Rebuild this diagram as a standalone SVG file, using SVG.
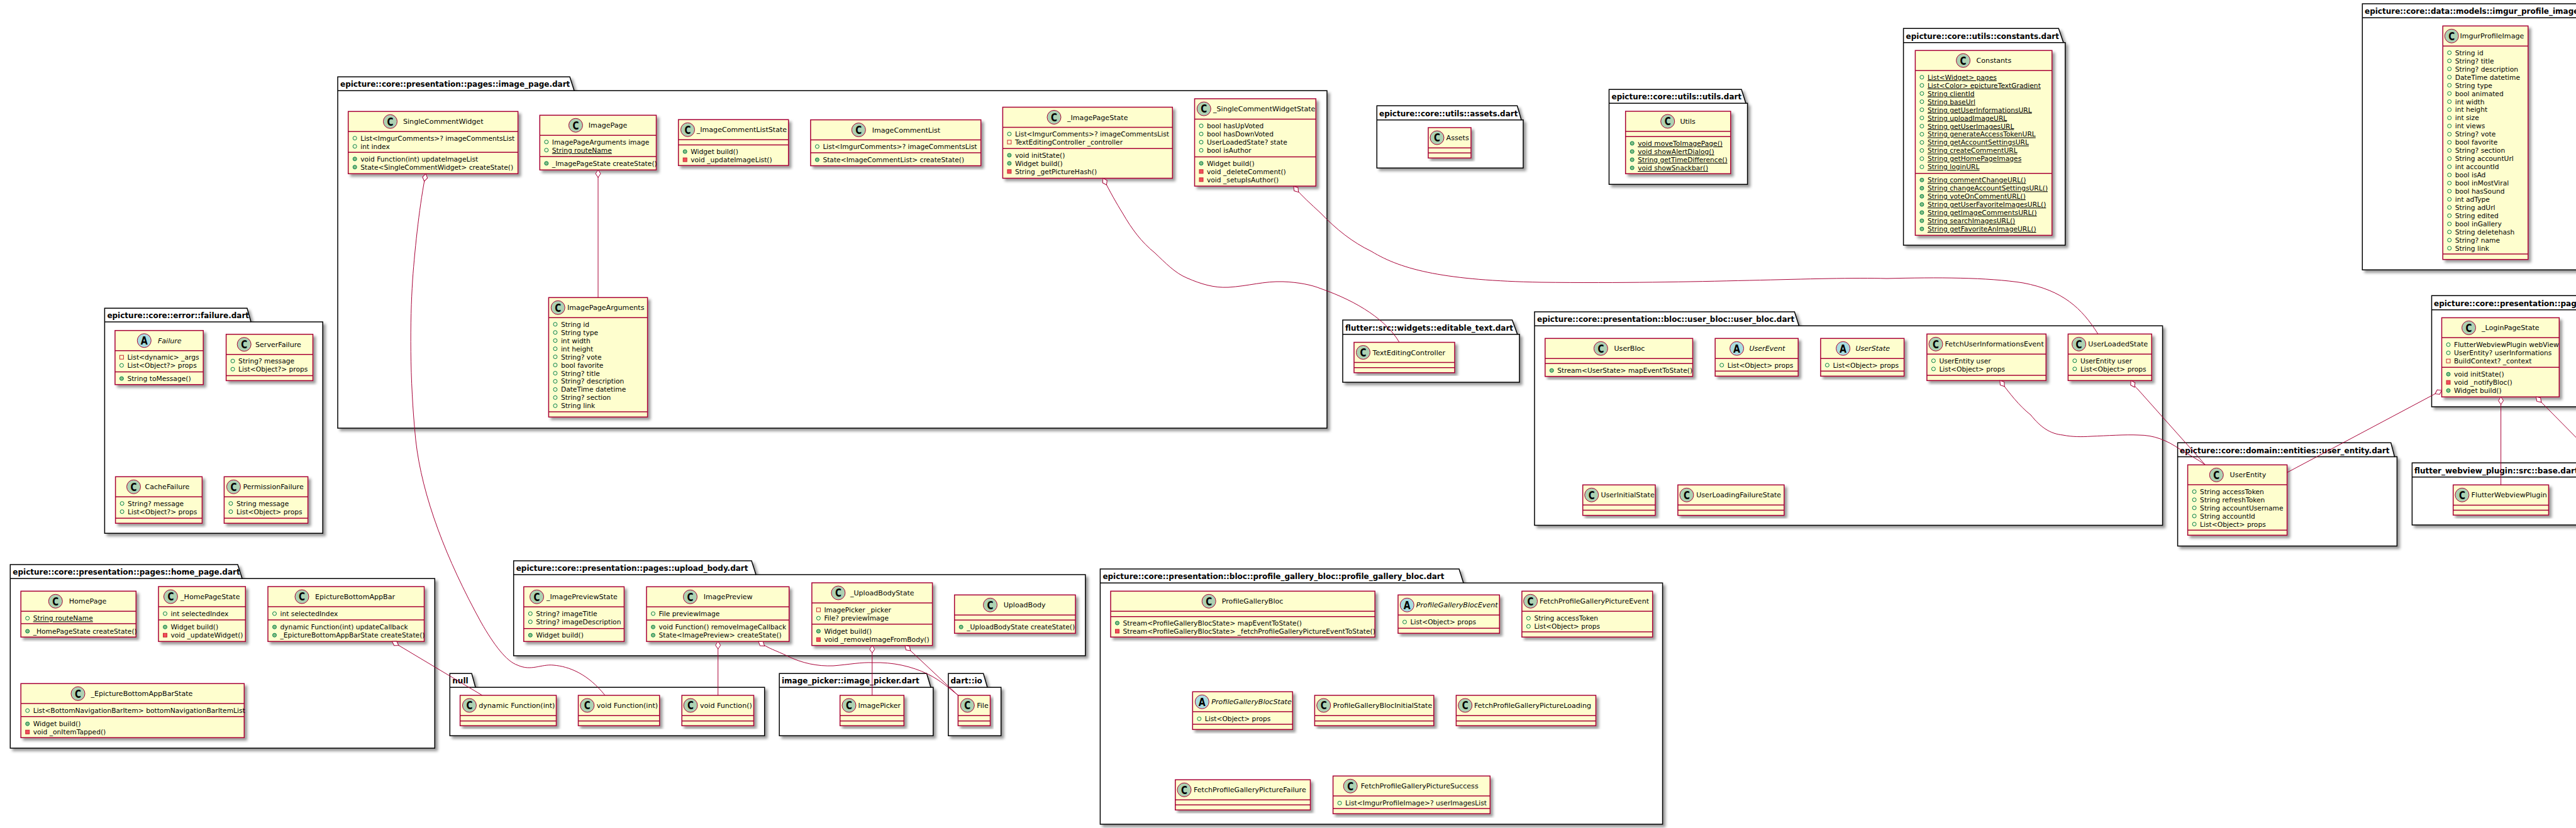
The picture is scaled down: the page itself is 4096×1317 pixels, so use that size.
<svg xmlns="http://www.w3.org/2000/svg" width="4096" height="1317" viewBox="0 0 4096 1317">
<style>
text{font-family:"DejaVu Sans","Liberation Sans",sans-serif;fill:#000}
.pk{fill:#fff;stroke:#000;stroke-width:1.5;filter:url(#sh)}
.pl{stroke:#000;stroke-width:1.5;fill:none}
.pt{font-size:12px;font-weight:bold}
.b{fill:#FEFECE;stroke:#A80036;stroke-width:1.5;filter:url(#sh)}
.s{stroke:#A80036;stroke-width:1.5}
.t{font-size:11.1px}
.i{font-size:11.1px;font-style:italic}
.a{font-size:10.7px}
.u{text-decoration:underline}
.cn{fill:none;stroke:#A80036;stroke-width:1;marker-start:url(#dia)}
.g{font-size:17px;font-weight:bold;text-anchor:middle}
</style>
<defs>
<filter id="sh" x="-5%" y="-5%" width="115%" height="115%"><feDropShadow dx="4" dy="4" stdDeviation="2" flood-color="#000" flood-opacity="0.4"/></filter>
<marker id="dia" markerUnits="userSpaceOnUse" markerWidth="14" markerHeight="10" refX="1" refY="5" orient="auto" overflow="visible"><path d="M1,5 L7,1 L13,5 L7,9 Z" fill="#fff" stroke="#A80036" stroke-width="1"/></marker>
<g id="C"><circle r="11" fill="#ADD1B2" stroke="#A80036"/><text class="g" y="6.3" textLength="10" lengthAdjust="spacingAndGlyphs">C</text></g>
<g id="A"><circle r="11" fill="#A9DCDF" stroke="#A80036"/><text class="g" y="6.3" textLength="11" lengthAdjust="spacingAndGlyphs">A</text></g>
<circle id="o" r="3" fill="none" stroke="#038048"/>
<circle id="m" r="3" fill="#84BE84" stroke="#038048"/>
<rect id="q" x="-3" y="-3" width="6" height="6" fill="none" stroke="#C82930"/>
<rect id="r" x="-3" y="-3" width="6" height="6" fill="#F24D5C" stroke="#C82930"/>
</defs>

<g id="packages">
<g id="pkg-failure"><path class="pk" d="M166.4,490.3 H392.9 L399,512 H513.2 V848.3 H166.4 Z"/><path class="pl" d="M166.4,512 H399"/><text class="pt" x="170.4" y="506">epicture::core::error::failure.dart</text></g>
<g id="pkg-image-page"><path class="pk" d="M537,122.3 H906 L913,144.3 H2110 V681 H537 Z"/><path class="pl" d="M537,144.3 H913"/><text class="pt" x="541" y="138">epicture::core::presentation::pages::image_page.dart</text></g>
<g id="pkg-assets"><path class="pk" d="M2189.3,168.3 H2412.5 L2419,190.7 H2422 V267.3 H2189.3 Z"/><path class="pl" d="M2189.3,190.7 H2419"/><text class="pt" x="2193" y="184.5">epicture::core::utils::assets.dart</text></g>
<g id="pkg-utils"><path class="pk" d="M2558.5,142.3 H2769 L2776,164.3 H2778.6 V293.3 H2558.5 Z"/><path class="pl" d="M2558.5,164.3 H2776"/><text class="pt" x="2562.5" y="158">epicture::core::utils::utils.dart</text></g>
<g id="pkg-constants"><path class="pk" d="M3026.6,45.3 H3273.3 L3281,67.7 H3283.8 V390 H3026.6 Z"/><path class="pl" d="M3026.6,67.7 H3281"/><text class="pt" x="3030.6" y="61.5">epicture::core::utils::constants.dart</text></g>
<g id="pkg-imgur"><path class="pk" d="M3756.3,6 H4140 L4147,28.3 H4160 V429.3 H3756.3 Z"/><path class="pl" d="M3756.3,28.3 H4147"/><text class="pt" x="3760" y="22">epicture::core::data::models::imgur_profile_image.dart</text></g>
<g id="pkg-editable"><path class="pk" d="M2135,509 H2404.5 L2412.8,531.7 H2416 V608 H2135 Z"/><path class="pl" d="M2135,531.7 H2412.8"/><text class="pt" x="2139" y="525.5">flutter::src::widgets::editable_text.dart</text></g>
<g id="pkg-user-bloc"><path class="pk" d="M2440,496 H2853.4 L2860.5,518.3 H3438.6 V835.5 H2440 Z"/><path class="pl" d="M2440,518.3 H2860.5"/><text class="pt" x="2444" y="512">epicture::core::presentation::bloc::user_bloc::user_bloc.dart</text></g>
<g id="pkg-user-entity"><path class="pk" d="M3462.6,704.3 H3801.7 L3807.5,726.4 H3811.4 V868.4 H3462.6 Z"/><path class="pl" d="M3462.6,726.4 H3807.5"/><text class="pt" x="3466" y="720.5">epicture::core::domain::entities::user_entity.dart</text></g>
<g id="pkg-login"><path class="pk" d="M3866.5,470.3 H4230 L4237,492.8 H4250 V647.1 H3866.5 Z"/><path class="pl" d="M3866.5,492.8 H4237"/><text class="pt" x="3870" y="486.5">epicture::core::presentation::pages::login_page.dart</text></g>
<g id="pkg-webview"><path class="pk" d="M3835.4,736.2 H4110 L4117,758.7 H4130 V835 H3835.4 Z"/><path class="pl" d="M3835.4,758.7 H4117"/><text class="pt" x="3839" y="752.5">flutter_webview_plugin::src::base.dart</text></g>
<g id="pkg-home"><path class="pk" d="M16.3,898 H378 L385,920.3 H691.3 V1190 H16.3 Z"/><path class="pl" d="M16.3,920.3 H385"/><text class="pt" x="20.3" y="914">epicture::core::presentation::pages::home_page.dart</text></g>
<g id="pkg-upload"><path class="pk" d="M816.7,892 H1195 L1202,914 H1725.8 V1043 H816.7 Z"/><path class="pl" d="M816.7,914 H1202"/><text class="pt" x="820.7" y="908">epicture::core::presentation::pages::upload_body.dart</text></g>
<g id="pkg-gallery"><path class="pk" d="M1749.4,905 H2320 L2327,927.3 H2643.6 V1311 H1749.4 Z"/><path class="pl" d="M1749.4,927.3 H2327"/><text class="pt" x="1753.4" y="921">epicture::core::presentation::bloc::profile_gallery_bloc::profile_gallery_bloc.dart</text></g>
<g id="pkg-null"><path class="pk" d="M715.3,1071.3 H750 L756,1093.3 H1215.7 V1170.3 H715.3 Z"/><path class="pl" d="M715.3,1093.3 H756"/><text class="pt" x="719.3" y="1087">null</text></g>
<g id="pkg-image-picker"><path class="pk" d="M1239.2,1071.3 H1473.5 L1480,1093.3 H1483.8 V1170.3 H1239.2 Z"/><path class="pl" d="M1239.2,1093.3 H1480"/><text class="pt" x="1243" y="1087">image_picker::image_picker.dart</text></g>
<g id="pkg-dart-io"><path class="pk" d="M1507.9,1071.3 H1563.6 L1570,1093.3 H1591.7 V1170.3 H1507.9 Z"/><path class="pl" d="M1507.9,1093.3 H1570"/><text class="pt" x="1511.5" y="1087">dart::io</text></g>
</g>

<g id="Failure" transform="translate(182.9,525.7)"><rect class="b" width="140.3" height="86"/><path class="s" d="M0,32H140.3M0,65.9H140.3"/><use href="#A" x="46.4" y="16"/><text class="i" x="68" y="20">Failure</text><use href="#q" x="10.5" y="42.5"/><text class="a" x="19.5" y="46.5">List&lt;dynamic&gt; _args</text><use href="#o" x="10.5" y="55.5"/><text class="a" x="19.5" y="59.5">List&lt;Object?&gt; props</text><use href="#m" x="10.5" y="76.4"/><text class="a" x="19.5" y="80.4">String toMessage()</text></g>
<g id="ServerFailure" transform="translate(359.6,531.7)"><rect class="b" width="137.9" height="73.7"/><path class="s" d="M0,32H137.9M0,65.9H137.9"/><use href="#C" x="28.6" y="16"/><text class="t" x="46.4" y="20">ServerFailure</text><use href="#o" x="10.5" y="42.5"/><text class="a" x="19.5" y="46.5">String? message</text><use href="#o" x="10.5" y="55.5"/><text class="a" x="19.5" y="59.5">List&lt;Object?&gt; props</text></g>
<g id="CacheFailure" transform="translate(183.6,758.3)"><rect class="b" width="137.8" height="74"/><path class="s" d="M0,32H137.8M0,65.9H137.8"/><use href="#C" x="28.9" y="16"/><text class="t" x="46.8" y="20">CacheFailure</text><use href="#o" x="10.5" y="42.5"/><text class="a" x="19.5" y="46.5">String? message</text><use href="#o" x="10.5" y="55.5"/><text class="a" x="19.5" y="59.5">List&lt;Object?&gt; props</text></g>
<g id="PermissionFailure" transform="translate(356.4,758.3)"><rect class="b" width="133.2" height="74"/><path class="s" d="M0,32H133.2M0,65.9H133.2"/><use href="#C" x="15" y="16"/><text class="t" x="30" y="20">PermissionFailure</text><use href="#o" x="10.5" y="42.5"/><text class="a" x="19.5" y="46.5">String message</text><use href="#o" x="10.5" y="55.5"/><text class="a" x="19.5" y="59.5">List&lt;Object&gt; props</text></g>

<g id="SingleCommentWidget" transform="translate(553.7,177.3)"><rect class="b" width="269.9" height="99"/><path class="s" d="M0,32H269.9M0,65H269.9"/><use href="#C" x="66.8" y="16"/><text class="t" x="87.3" y="20">SingleCommentWidget</text><use href="#o" x="10.5" y="42.5"/><text class="a" x="19.5" y="46.5">List&lt;ImgurComments&gt;? imageCommentsList</text><use href="#o" x="10.5" y="55.5"/><text class="a" x="19.5" y="59.5">int index</text><use href="#m" x="10.5" y="75.5"/><text class="a" x="19.5" y="79.5">void Function(int) updateImageList</text><use href="#m" x="10.5" y="88.5"/><text class="a" x="19.5" y="92.5">State&lt;SingleCommentWidget&gt; createState()</text></g>
<g id="ImagePage" transform="translate(858.3,183.3)"><rect class="b" width="185.2" height="87"/><path class="s" d="M0,32H185.2M0,65.7H185.2"/><use href="#C" x="57.1" y="16"/><text class="t" x="77.5" y="20">ImagePage</text><use href="#o" x="10.5" y="42.5"/><text class="a" x="19.5" y="46.5">ImagePageArguments image</text><use href="#o" x="10.5" y="55.5"/><text class="a u" x="19.5" y="59.5">String routeName</text><use href="#m" x="10.5" y="76.5"/><text class="a" x="19.5" y="80.5">_ImagePageState createState()</text></g>
<g id="_ImageCommentListState" transform="translate(1078.7,190.3)"><rect class="b" width="175" height="73"/><path class="s" d="M0,32H175M0,40.3H175"/><use href="#C" x="14.8" y="16"/><text class="t" x="29" y="20">_ImageCommentListState</text><use href="#m" x="10.5" y="50.8"/><text class="a" x="19.5" y="54.8">Widget build()</text><use href="#r" x="10.5" y="63.8"/><text class="a" x="19.5" y="67.8">void _updateImageList()</text></g>
<g id="ImageCommentList" transform="translate(1288.9,190.6)"><rect class="b" width="270.8" height="73"/><path class="s" d="M0,32H270.8M0,52.3H270.8"/><use href="#C" x="76.4" y="16"/><text class="t" x="97.8" y="20">ImageCommentList</text><use href="#o" x="10.5" y="42.5"/><text class="a" x="19.5" y="46.5">List&lt;ImgurComments&gt;? imageCommentsList</text><use href="#m" x="10.5" y="63.5"/><text class="a" x="19.5" y="67.5">State&lt;ImageCommentList&gt; createState()</text></g>
<g id="_ImagePageState" transform="translate(1594.4,170.5)"><rect class="b" width="269.9" height="113"/><path class="s" d="M0,32H269.9M0,65.7H269.9"/><use href="#C" x="81.6" y="16"/><text class="t" x="102.6" y="20">_ImagePageState</text><use href="#o" x="10.5" y="42.5"/><text class="a" x="19.5" y="46.5">List&lt;ImgurComments&gt;? imageCommentsList</text><use href="#q" x="10.5" y="55.5"/><text class="a" x="19.5" y="59.5">TextEditingController _controller</text><use href="#m" x="10.5" y="76.4"/><text class="a" x="19.5" y="80.4">void initState()</text><use href="#m" x="10.5" y="89.3"/><text class="a" x="19.5" y="93.3">Widget build()</text><use href="#r" x="10.5" y="102.3"/><text class="a" x="19.5" y="106.3">String _getPictureHash()</text></g>
<g id="_SingleCommentWidgetState" transform="translate(1899.5,157.1)"><rect class="b" width="192.8" height="138.9"/><path class="s" d="M0,32.5H192.8M0,92.5H192.8"/><use href="#C" x="14.8" y="16"/><text class="t" x="29.5" y="20">_SingleCommentWidgetState</text><use href="#o" x="10.5" y="43"/><text class="a" x="19.5" y="47">bool hasUpVoted</text><use href="#o" x="10.5" y="56"/><text class="a" x="19.5" y="60">bool hasDownVoted</text><use href="#o" x="10.5" y="69"/><text class="a" x="19.5" y="73">UserLoadedState? state</text><use href="#o" x="10.5" y="82"/><text class="a" x="19.5" y="86">bool isAuthor</text><use href="#m" x="10.5" y="102.7"/><text class="a" x="19.5" y="106.7">Widget build()</text><use href="#r" x="10.5" y="115.7"/><text class="a" x="19.5" y="119.7">void _deleteComment()</text><use href="#r" x="10.5" y="128.7"/><text class="a" x="19.5" y="132.7">void _setupIsAuthor()</text></g>
<g id="ImagePageArguments" transform="translate(872.4,473.3)"><rect class="b" width="157.2" height="190"/><path class="s" d="M0,32H157.2M0,181.7H157.2"/><use href="#C" x="14.8" y="16"/><text class="t" x="29.6" y="20">ImagePageArguments</text><use href="#o" x="10.5" y="42.5"/><text class="a" x="19.5" y="46.5">String id</text><use href="#o" x="10.5" y="55.5"/><text class="a" x="19.5" y="59.5">String type</text><use href="#o" x="10.5" y="68.4"/><text class="a" x="19.5" y="72.4">int width</text><use href="#o" x="10.5" y="81.4"/><text class="a" x="19.5" y="85.4">int height</text><use href="#o" x="10.5" y="94.3"/><text class="a" x="19.5" y="98.3">String? vote</text><use href="#o" x="10.5" y="107.3"/><text class="a" x="19.5" y="111.3">bool favorite</text><use href="#o" x="10.5" y="120.3"/><text class="a" x="19.5" y="124.3">String? title</text><use href="#o" x="10.5" y="133.2"/><text class="a" x="19.5" y="137.2">String? description</text><use href="#o" x="10.5" y="146.2"/><text class="a" x="19.5" y="150.2">DateTime datetime</text><use href="#o" x="10.5" y="159.1"/><text class="a" x="19.5" y="163.1">String? section</text><use href="#o" x="10.5" y="172.1"/><text class="a" x="19.5" y="176.1">String link</text></g>

<g id="Assets" transform="translate(2271,203)"><rect class="b" width="68" height="48.3"/><path class="s" d="M0,32.3H68M0,40.3H68"/><use href="#C" x="14" y="16"/><text class="t" x="28.6" y="20">Assets</text></g>
<g id="Utils" transform="translate(2584.7,177)"><rect class="b" width="167.1" height="99.3"/><path class="s" d="M0,32H167.1M0,40.3H167.1"/><use href="#C" x="67" y="16"/><text class="t" x="86.7" y="20">Utils</text><use href="#m" x="10.5" y="51"/><text class="a u" x="19.5" y="55">void moveToImagePage()</text><use href="#m" x="10.5" y="64"/><text class="a u" x="19.5" y="68">void showAlertDialog()</text><use href="#m" x="10.5" y="77"/><text class="a u" x="19.5" y="81">String getTimeDifference()</text><use href="#m" x="10.5" y="90"/><text class="a u" x="19.5" y="94">void showSnackbar()</text></g>
<g id="Constants" transform="translate(3045.4,80.3)"><rect class="b" width="217.4" height="294"/><path class="s" d="M0,32H217.4M0,195.4H217.4"/><use href="#C" x="76.2" y="16"/><text class="t" x="97.2" y="20">Constants</text>
<use href="#o" x="10.5" y="42.5"/><text class="a u" x="19.5" y="46.5">List&lt;Widget&gt; pages</text><use href="#o" x="10.5" y="55.5"/><text class="a u" x="19.5" y="59.5">List&lt;Color&gt; epictureTextGradient</text><use href="#o" x="10.5" y="68.4"/><text class="a u" x="19.5" y="72.4">String clientId</text><use href="#o" x="10.5" y="81.4"/><text class="a u" x="19.5" y="85.4">String baseUrl</text><use href="#o" x="10.5" y="94.3"/><text class="a u" x="19.5" y="98.3">String getUserInformationsURL</text><use href="#o" x="10.5" y="107.3"/><text class="a u" x="19.5" y="111.3">String uploadImageURL</text><use href="#o" x="10.5" y="120.3"/><text class="a u" x="19.5" y="124.3">String getUserImagesURL</text><use href="#o" x="10.5" y="133.2"/><text class="a u" x="19.5" y="137.2">String generateAccessTokenURL</text><use href="#o" x="10.5" y="146.2"/><text class="a u" x="19.5" y="150.2">String getAccountSettingsURL</text><use href="#o" x="10.5" y="159.1"/><text class="a u" x="19.5" y="163.1">String createCommentURL</text><use href="#o" x="10.5" y="172.1"/><text class="a u" x="19.5" y="176.1">String getHomePageImages</text><use href="#o" x="10.5" y="185.1"/><text class="a u" x="19.5" y="189.1">String loginURL</text>
<use href="#m" x="10.5" y="206"/><text class="a u" x="19.5" y="210">String commentChangeURL()</text><use href="#m" x="10.5" y="219"/><text class="a u" x="19.5" y="223">String changeAccountSettingsURL()</text><use href="#m" x="10.5" y="231.9"/><text class="a u" x="19.5" y="235.9">String voteOnCommentURL()</text><use href="#m" x="10.5" y="244.9"/><text class="a u" x="19.5" y="248.9">String getUserFavoriteImagesURL()</text><use href="#m" x="10.5" y="257.8"/><text class="a u" x="19.5" y="261.8">String getImageCommentsURL()</text><use href="#m" x="10.5" y="270.8"/><text class="a u" x="19.5" y="274.8">String searchImagesURL()</text><use href="#m" x="10.5" y="283.8"/><text class="a u" x="19.5" y="287.8">String getFavoriteAnImageURL()</text></g>
<g id="ImgurProfileImage" transform="translate(3884.2,41.3)"><rect class="b" width="135.6" height="371.4"/><path class="s" d="M0,32H135.6M0,362.8H135.6"/><use href="#C" x="14" y="16"/><text class="t" x="27.2" y="20">ImgurProfileImage</text>
<use href="#o" x="10.5" y="42.5"/><text class="a" x="19.5" y="46.5">String id</text><use href="#o" x="10.5" y="55.5"/><text class="a" x="19.5" y="59.5">String? title</text><use href="#o" x="10.5" y="68.4"/><text class="a" x="19.5" y="72.4">String? description</text><use href="#o" x="10.5" y="81.4"/><text class="a" x="19.5" y="85.4">DateTime datetime</text><use href="#o" x="10.5" y="94.3"/><text class="a" x="19.5" y="98.3">String type</text><use href="#o" x="10.5" y="107.3"/><text class="a" x="19.5" y="111.3">bool animated</text><use href="#o" x="10.5" y="120.3"/><text class="a" x="19.5" y="124.3">int width</text><use href="#o" x="10.5" y="133.2"/><text class="a" x="19.5" y="137.2">int height</text><use href="#o" x="10.5" y="146.2"/><text class="a" x="19.5" y="150.2">int size</text><use href="#o" x="10.5" y="159.1"/><text class="a" x="19.5" y="163.1">int views</text><use href="#o" x="10.5" y="172.1"/><text class="a" x="19.5" y="176.1">String? vote</text><use href="#o" x="10.5" y="185.1"/><text class="a" x="19.5" y="189.1">bool favorite</text><use href="#o" x="10.5" y="198"/><text class="a" x="19.5" y="202">String? section</text><use href="#o" x="10.5" y="211"/><text class="a" x="19.5" y="215">String accountUrl</text><use href="#o" x="10.5" y="223.9"/><text class="a" x="19.5" y="227.9">int accountId</text><use href="#o" x="10.5" y="236.9"/><text class="a" x="19.5" y="240.9">bool isAd</text><use href="#o" x="10.5" y="249.9"/><text class="a" x="19.5" y="253.9">bool inMostViral</text><use href="#o" x="10.5" y="262.8"/><text class="a" x="19.5" y="266.8">bool hasSound</text><use href="#o" x="10.5" y="275.8"/><text class="a" x="19.5" y="279.8">int adType</text><use href="#o" x="10.5" y="288.7"/><text class="a" x="19.5" y="292.7">String adUrl</text><use href="#o" x="10.5" y="301.7"/><text class="a" x="19.5" y="305.7">String edited</text><use href="#o" x="10.5" y="314.7"/><text class="a" x="19.5" y="318.7">bool inGallery</text><use href="#o" x="10.5" y="327.6"/><text class="a" x="19.5" y="331.6">String deletehash</text><use href="#o" x="10.5" y="340.6"/><text class="a" x="19.5" y="344.6">String? name</text><use href="#o" x="10.5" y="353.5"/><text class="a" x="19.5" y="357.5">String link</text></g>

<g id="TextEditingController" transform="translate(2153,544.5)"><rect class="b" width="160" height="48.3"/><path class="s" d="M0,32H160M0,40.3H160"/><use href="#C" x="14.5" y="16"/><text class="t" x="29.5" y="20">TextEditingController</text></g>
<g id="UserBloc" transform="translate(2456.8,538.3)"><rect class="b" width="234.7" height="60.4"/><path class="s" d="M0,32H234.7M0,40H234.7"/><use href="#C" x="88.6" y="16"/><text class="t" x="109.7" y="20">UserBloc</text><use href="#m" x="10.5" y="51"/><text class="a" x="19.5" y="55">Stream&lt;UserState&gt; mapEventToState()</text></g>
<g id="UserEvent" transform="translate(2727.2,538.3)"><rect class="b" width="132" height="60"/><path class="s" d="M0,32H132M0,52H132"/><use href="#A" x="34.4" y="16"/><text class="i" x="54.2" y="20">UserEvent</text><use href="#o" x="10.5" y="42.5"/><text class="a" x="19.5" y="46.5">List&lt;Object&gt; props</text></g>
<g id="UserState" transform="translate(2894.9,538.3)"><rect class="b" width="132.7" height="60"/><path class="s" d="M0,32H132.7M0,52H132.7"/><use href="#A" x="35.7" y="16"/><text class="i" x="55.5" y="20">UserState</text><use href="#o" x="10.5" y="42.5"/><text class="a" x="19.5" y="46.5">List&lt;Object&gt; props</text></g>
<g id="FetchUserInformationsEvent" transform="translate(3063.9,531.3)"><rect class="b" width="189.4" height="74"/><path class="s" d="M0,32H189.4M0,65.7H189.4"/><use href="#C" x="14.1" y="16"/><text class="t" x="28.7" y="20">FetchUserInformationsEvent</text><use href="#o" x="10.5" y="42.5"/><text class="a" x="19.5" y="46.5">UserEntity user</text><use href="#o" x="10.5" y="55.5"/><text class="a" x="19.5" y="59.5">List&lt;Object&gt; props</text></g>
<g id="UserLoadedState" transform="translate(3288.4,531.3)"><rect class="b" width="132.9" height="74"/><path class="s" d="M0,32H132.9M0,65.7H132.9"/><use href="#C" x="17.2" y="16"/><text class="t" x="31.9" y="20">UserLoadedState</text><use href="#o" x="10.5" y="42.5"/><text class="a" x="19.5" y="46.5">UserEntity user</text><use href="#o" x="10.5" y="55.5"/><text class="a" x="19.5" y="59.5">List&lt;Object&gt; props</text></g>
<g id="UserInitialState" transform="translate(2516.7,771.3)"><rect class="b" width="115.3" height="48.4"/><path class="s" d="M0,32H115.3M0,40.3H115.3"/><use href="#C" x="14" y="16"/><text class="t" x="28.7" y="20">UserInitialState</text></g>
<g id="UserLoadingFailureState" transform="translate(2667.9,771.3)"><rect class="b" width="169" height="48.4"/><path class="s" d="M0,32H169M0,40.3H169"/><use href="#C" x="14" y="16"/><text class="t" x="29.3" y="20">UserLoadingFailureState</text></g>
<g id="UserEntity" transform="translate(3478.6,739.4)"><rect class="b" width="158" height="111.9"/><path class="s" d="M0,31.6H158M0,103.8H158"/><use href="#C" x="45.7" y="16"/><text class="t" x="67" y="20">UserEntity</text><use href="#o" x="10.5" y="42.5"/><text class="a" x="19.5" y="46.5">String accessToken</text><use href="#o" x="10.5" y="55.5"/><text class="a" x="19.5" y="59.5">String refreshToken</text><use href="#o" x="10.5" y="68.4"/><text class="a" x="19.5" y="72.4">String accountUsername</text><use href="#o" x="10.5" y="81.4"/><text class="a" x="19.5" y="85.4">String accountId</text><use href="#o" x="10.5" y="94.3"/><text class="a" x="19.5" y="98.3">List&lt;Object&gt; props</text></g>
<g id="_LoginPageState" transform="translate(3882.5,505.4)"><rect class="b" width="186.8" height="125.9"/><path class="s" d="M0,31.6H186.8M0,78.9H186.8"/><use href="#C" x="43" y="16"/><text class="t" x="63.5" y="20">_LoginPageState</text><use href="#o" x="10.5" y="42.8"/><text class="a" x="19.5" y="46.8">FlutterWebviewPlugin webView</text><use href="#o" x="10.5" y="55.8"/><text class="a" x="19.5" y="59.8">UserEntity? userInformations</text><use href="#q" x="10.5" y="68.8"/><text class="a" x="19.5" y="72.8">BuildContext? _context</text><use href="#m" x="10.5" y="89.8"/><text class="a" x="19.5" y="93.8">void initState()</text><use href="#r" x="10.5" y="102.8"/><text class="a" x="19.5" y="106.8">void _notifyBloc()</text><use href="#m" x="10.5" y="115.8"/><text class="a" x="19.5" y="119.8">Widget build()</text></g>
<g id="FlutterWebviewPlugin" transform="translate(3900.7,771.3)"><rect class="b" width="151.8" height="48"/><path class="s" d="M0,32.3H151.8M0,40.3H151.8"/><use href="#C" x="14.2" y="16"/><text class="t" x="28.8" y="20">FlutterWebviewPlugin</text></g>

<g id="HomePage" transform="translate(33.2,940.3)"><rect class="b" width="183.1" height="73"/><path class="s" d="M0,32H183.1M0,51.7H183.1"/><use href="#C" x="55.1" y="16"/><text class="t" x="76.5" y="20">HomePage</text><use href="#o" x="10.5" y="43"/><text class="a u" x="19.5" y="47">String routeName</text><use href="#m" x="10.5" y="63.7"/><text class="a" x="19.5" y="67.7">_HomePageState createState()</text></g>
<g id="_HomePageState" transform="translate(252,933)"><rect class="b" width="138.3" height="87.3"/><path class="s" d="M0,32H138.3M0,53H138.3"/><use href="#C" x="19.4" y="16"/><text class="t" x="35" y="20">_HomePageState</text><use href="#o" x="10.5" y="43"/><text class="a" x="19.5" y="47">int selectedIndex</text><use href="#m" x="10.5" y="64.3"/><text class="a" x="19.5" y="68.3">Widget build()</text><use href="#r" x="10.5" y="77.3"/><text class="a" x="19.5" y="81.3">void _updateWidget()</text></g>
<g id="EpictureBottomAppBar" transform="translate(426,933)"><rect class="b" width="248.5" height="87.3"/><path class="s" d="M0,32H248.5M0,53H248.5"/><use href="#C" x="54" y="16"/><text class="t" x="75" y="20">EpictureBottomAppBar</text><use href="#o" x="10.5" y="43"/><text class="a" x="19.5" y="47">int selectedIndex</text><use href="#m" x="10.5" y="64.3"/><text class="a" x="19.5" y="68.3">dynamic Function(int) updateCallback</text><use href="#m" x="10.5" y="77.3"/><text class="a" x="19.5" y="81.3">_EpictureBottomAppBarState createState()</text></g>
<g id="_EpictureBottomAppBarState" transform="translate(33.2,1087.3)"><rect class="b" width="355.1" height="86"/><path class="s" d="M0,31.7H355.1M0,52.4H355.1"/><use href="#C" x="90.8" y="16"/><text class="t" x="111.2" y="20">_EpictureBottomAppBarState</text><use href="#o" x="10.5" y="43"/><text class="a" x="19.5" y="47">List&lt;BottomNavigationBarItem&gt; bottomNavigationBarItemList</text><use href="#m" x="10.5" y="64"/><text class="a" x="19.5" y="68">Widget build()</text><use href="#r" x="10.5" y="77"/><text class="a" x="19.5" y="81">void _onItemTapped()</text></g>

<g id="dynamic-Function-int" transform="translate(731.6,1106)"><rect class="b" width="152.9" height="48.3"/><path class="s" d="M0,32.3H152.9M0,40.7H152.9"/><use href="#C" x="14.8" y="16"/><text class="t" x="29.6" y="20">dynamic Function(int)</text></g>
<g id="void-Function-int" transform="translate(919.5,1106)"><rect class="b" width="129.2" height="48.3"/><path class="s" d="M0,32.3H129.2M0,40.7H129.2"/><use href="#C" x="14.3" y="16"/><text class="t" x="29.3" y="20">void Function(int)</text></g>
<g id="void-Function" transform="translate(1084.2,1106)"><rect class="b" width="114.3" height="48.3"/><path class="s" d="M0,32.3H114.3M0,40.7H114.3"/><use href="#C" x="13.8" y="16"/><text class="t" x="28.8" y="20">void Function()</text></g>

<g id="_ImagePreviewState" transform="translate(832.8,933.3)"><rect class="b" width="159.6" height="87"/><path class="s" d="M0,32H159.6M0,66.4H159.6"/><use href="#C" x="20.7" y="16"/><text class="t" x="36.2" y="20">_ImagePreviewState</text><use href="#o" x="10.5" y="42.7"/><text class="a" x="19.5" y="46.7">String? imageTitle</text><use href="#o" x="10.5" y="55.7"/><text class="a" x="19.5" y="59.7">String? imageDescription</text><use href="#m" x="10.5" y="77"/><text class="a" x="19.5" y="81">Widget build()</text></g>
<g id="ImagePreview" transform="translate(1028,933.3)"><rect class="b" width="226.7" height="87"/><path class="s" d="M0,32H226.7M0,53H226.7"/><use href="#C" x="69.5" y="16"/><text class="t" x="90.7" y="20">ImagePreview</text><use href="#o" x="10.5" y="42.7"/><text class="a" x="19.5" y="46.7">File previewImage</text><use href="#m" x="10.5" y="64"/><text class="a" x="19.5" y="68">void Function() removeImageCallback</text><use href="#m" x="10.5" y="77"/><text class="a" x="19.5" y="81">State&lt;ImagePreview&gt; createState()</text></g>
<g id="_UploadBodyState" transform="translate(1290.9,927)"><rect class="b" width="191.7" height="99.7"/><path class="s" d="M0,32H191.7M0,65.7H191.7"/><use href="#C" x="42" y="16"/><text class="t" x="61" y="20">_UploadBodyState</text><use href="#q" x="10.5" y="43"/><text class="a" x="19.5" y="47">ImagePicker _picker</text><use href="#o" x="10.5" y="56.3"/><text class="a" x="19.5" y="60.3">File? previewImage</text><use href="#m" x="10.5" y="77"/><text class="a" x="19.5" y="81">Widget build()</text><use href="#r" x="10.5" y="90.3"/><text class="a" x="19.5" y="94.3">void _removeImageFromBody()</text></g>
<g id="UploadBody" transform="translate(1517.7,946.3)"><rect class="b" width="192.3" height="61"/><path class="s" d="M0,32H192.3M0,40H192.3"/><use href="#C" x="56.8" y="16"/><text class="t" x="78" y="20">UploadBody</text><use href="#m" x="10.5" y="51"/><text class="a" x="19.5" y="55">_UploadBodyState createState()</text></g>
<g id="ImagePicker" transform="translate(1335.7,1106)"><rect class="b" width="101.6" height="48.3"/><path class="s" d="M0,32.3H101.6M0,40.7H101.6"/><use href="#C" x="14.3" y="16"/><text class="t" x="28.7" y="20">ImagePicker</text></g>
<g id="File" transform="translate(1523.4,1106)"><rect class="b" width="51.1" height="48.3"/><path class="s" d="M0,32.3H51.1M0,40.7H51.1"/><use href="#C" x="14.9" y="16"/><text class="t" x="29.8" y="20">File</text></g>

<g id="ProfileGalleryBloc" transform="translate(1766,940.3)"><rect class="b" width="420.2" height="73"/><path class="s" d="M0,32H420.2M0,40.4H420.2"/><use href="#C" x="156.2" y="16"/><text class="t" x="176.8" y="20">ProfileGalleryBloc</text><use href="#m" x="10.5" y="50.7"/><text class="a" x="19.5" y="54.7">Stream&lt;ProfileGalleryBlocState&gt; mapEventToState()</text><use href="#r" x="10.5" y="63.7"/><text class="a" x="19.5" y="67.7">Stream&lt;ProfileGalleryBlocState&gt; _fetchProfileGalleryPictureEventToState()</text></g>
<g id="ProfileGalleryBlocEvent" transform="translate(2223,946.3)"><rect class="b" width="161.3" height="61"/><path class="s" d="M0,32H161.3M0,53H161.3"/><use href="#A" x="14.3" y="16"/><text class="i" x="28.7" y="20">ProfileGalleryBlocEvent</text><use href="#o" x="10.5" y="43"/><text class="a" x="19.5" y="47">List&lt;Object&gt; props</text></g>
<g id="FetchProfileGalleryPictureEvent" transform="translate(2419.9,940.3)"><rect class="b" width="207.8" height="73"/><path class="s" d="M0,32H207.8M0,64.7H207.8"/><use href="#C" x="13.7" y="16"/><text class="t" x="28.1" y="20">FetchProfileGalleryPictureEvent</text><use href="#o" x="10.5" y="43"/><text class="a" x="19.5" y="47">String accessToken</text><use href="#o" x="10.5" y="56"/><text class="a" x="19.5" y="60">List&lt;Object&gt; props</text></g>
<g id="ProfileGalleryBlocState" transform="translate(1896.3,1100.3)"><rect class="b" width="159" height="60"/><path class="s" d="M0,31.7H159M0,51.7H159"/><use href="#A" x="15" y="16"/><text class="i" x="29.9" y="20">ProfileGalleryBlocState</text><use href="#o" x="10.5" y="43"/><text class="a" x="19.5" y="47">List&lt;Object&gt; props</text></g>
<g id="ProfileGalleryBlocInitialState" transform="translate(2090.4,1106)"><rect class="b" width="189.4" height="48.3"/><path class="s" d="M0,32.3H189.4M0,40.7H189.4"/><use href="#C" x="14.3" y="16"/><text class="t" x="29.2" y="20">ProfileGalleryBlocInitialState</text></g>
<g id="FetchProfileGalleryPictureLoading" transform="translate(2315.4,1106)"><rect class="b" width="222.1" height="48.3"/><path class="s" d="M0,32.3H222.1M0,40.7H222.1"/><use href="#C" x="14.3" y="16"/><text class="t" x="28.6" y="20">FetchProfileGalleryPictureLoading</text></g>
<g id="FetchProfileGalleryPictureFailure" transform="translate(1868.8,1240.3)"><rect class="b" width="214.7" height="48"/><path class="s" d="M0,32H214.7M0,40H214.7"/><use href="#C" x="14.2" y="16"/><text class="t" x="29.2" y="20">FetchProfileGalleryPictureFailure</text></g>
<g id="FetchProfileGalleryPictureSuccess" transform="translate(2119.6,1234.3)"><rect class="b" width="249.7" height="60"/><path class="s" d="M0,31.7H249.7M0,51.7H249.7"/><use href="#C" x="27.6" y="16"/><text class="t" x="44.2" y="20">FetchProfileGalleryPictureSuccess</text><use href="#o" x="10.5" y="43"/><text class="a" x="19.5" y="47">List&lt;ImgurProfileImage&gt;? userImagesList</text></g>

<g id="connectors">
<path class="cn" d="M677,276.5 C668,320 660,390 656,446 C652,510 651,600 661,700 C671,790 710,890 765,990 C785,1025 805,1052 823,1058 C845,1068 860,1056 880,1058 C905,1060 935,1072 962,1106"/>
<path class="cn" d="M951,270.3 L951,473.3"/>
<path class="cn" d="M1754,283.5 C1765,305 1775,323 1785,339 C1800,365 1815,385 1836,402 C1853,418 1868,434 1887,442 C1910,452 1930,458 1953,457 C1985,455 2010,447 2040,448 C2065,449 2085,453 2100,459 C2160,480 2205,510 2225,544.5"/>
<path class="cn" d="M2057,296.4 C2070,312 2085,325 2100,339 C2125,365 2150,385 2181,400 C2230,430 2300,446 2450,449 C2700,452 2900,440 3000,443 C3080,441 3160,441 3217,450 C3280,462 3310,490 3336,531.3"/>
<path class="cn" d="M3180,605.3 C3195,625 3210,645 3229,660 C3245,680 3260,690 3280,692 C3295,695 3310,695 3325,694 C3350,693 3380,691 3400,692 C3425,692 3445,700 3467,715 C3480,723 3495,731 3506.5,739.4"/>
<path class="cn" d="M3388.5,605.3 C3392,612 3395,615 3400,620 L3506.5,739.4"/>
<path class="cn" d="M3882.5,620.8 L3636.6,751.6"/>
<path class="cn" d="M3976.6,631.3 L3976.6,771.3"/>
<path class="cn" d="M4032.5,631.3 L4120,720"/>
<path class="cn" d="M623.5,1020.3 L766.8,1106"/>
<path class="cn" d="M1141.7,1020.3 L1141.7,1106"/>
<path class="cn" d="M1206,1020.3 C1222,1032 1235,1035 1251,1043 C1275,1055 1300,1060 1325,1059 C1350,1057 1370,1053 1388,1054 C1420,1053 1450,1060 1475,1072 C1495,1082 1510,1095 1523.4,1106"/>
<path class="cn" d="M1386.8,1026.7 L1386.8,1106"/>
<path class="cn" d="M1439,1026.7 L1523.4,1106"/>
</g>
</svg>
